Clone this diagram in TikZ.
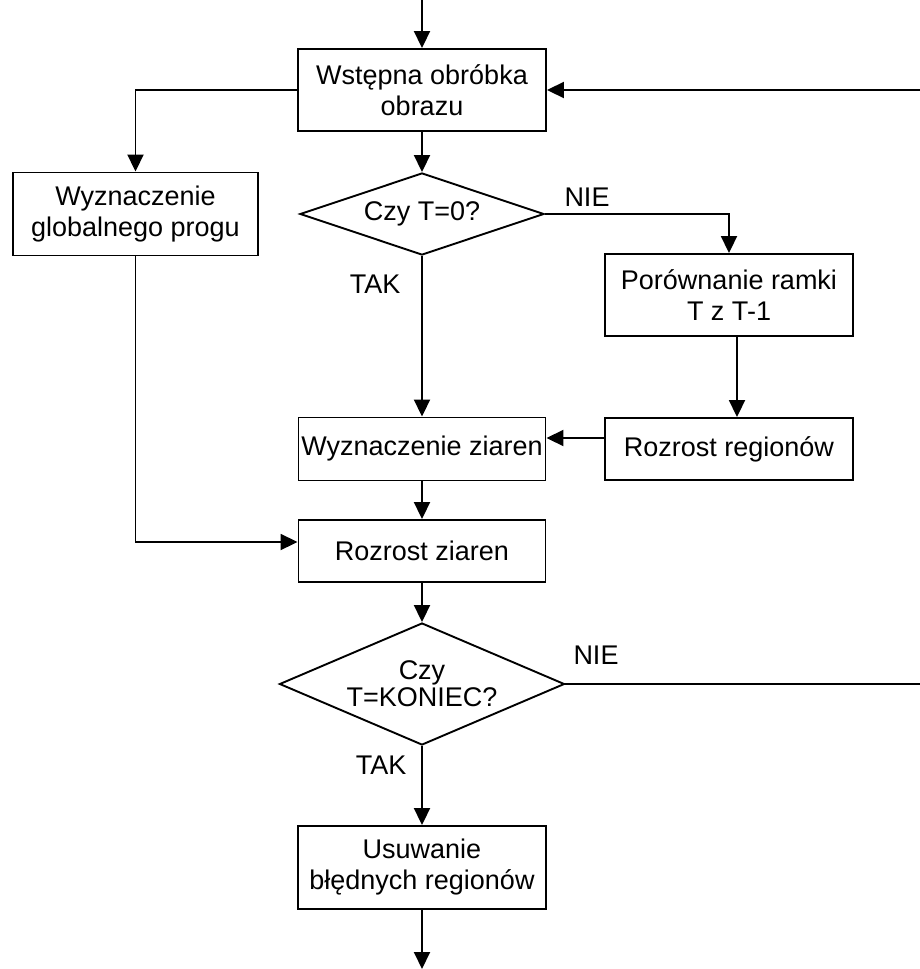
\documentclass[tikz,border=0pt]{standalone}
\usepackage{fontspec}
\setmainfont{Liberation Sans}
\usepackage{tikz}
\usetikzlibrary{shapes.geometric,arrows.meta}
\tikzstyle{process} = [draw, rectangle, line width=1.9pt, inner sep=2pt, text centered, align=center, font=\fontsize{27}{31}\selectfont]
\tikzstyle{decision} = [draw, diamond, line width=1.9pt, inner sep=0pt, text centered, align=center, font=\fontsize{27}{27}\selectfont]
\tikzstyle{answer} = [font=\fontsize{27}{31}\selectfont]
\tikzstyle{arr} = [line width=1.9pt, -{Triangle[length=17pt,width=16pt]}]

\begin{document}
\begin{tikzpicture}[x=1pt,y=-1pt]
    \useasboundingbox (0,0) rectangle (920,969);
    \draw (422,90)    node[process, minimum width=248, minimum height=82] (A) {Wstępna obróbka \\ obrazu};
    \draw (135.5,214) node[process, minimum width=245, minimum height=83] (B) {Wyznaczenie \\ globalnego progu};
    \draw (422,214)   node[decision, minimum width=244, minimum height=82, aspect=2.98] (C) {Czy T=0?};
    \draw (729,295)   node[process, minimum width=248, minimum height=82] (D) {Porównanie ramki \\ T z T-1};
    \draw (729,449)   node[process, minimum width=248, minimum height=62] (E) {Rozrost regionów};
    \draw (422,449)   node[process, minimum width=247, minimum height=63] (F) {Wyznaczenie ziaren};
    \draw (422,551)   node[process, minimum width=247, minimum height=62] (G) {Rozrost ziaren};
    \draw (422,684)   node[decision, minimum width=285, minimum height=122, aspect=2.34] (H) {Czy \\ T=KONIEC?};
    \draw (422,867.5) node[process, minimum width=248, minimum height=83] (I) {Usuwanie \\ błędnych regionów};
    \coordinate (start) at (422,0);
    \coordinate (stop) at (422,969);
    \coordinate (R) at (922,0);
    \draw (587,197) node[answer] (nie1) {NIE};
    \draw (375,284) node[answer] (tak1) {TAK};
    \draw (596,655) node[answer] (nie2) {NIE};
    \draw (381,765) node[answer] (tak2) {TAK};
    \draw[arr] (start) -- (A.north);
    \draw[arr] (A.west) -| (B.north);
    \draw[arr] (A.south) -- (C.north);
    \draw[arr] (C.east) -| (D.north);
    \draw[arr] (C.south) -- (F.north);
    \draw[arr] ([xshift=8pt]D.south) -- ([xshift=8pt]E.north);
    \draw[arr] ([yshift=11pt]E.west) -- ([yshift=11pt]E.west -| F.east);
    \draw[arr] (F.south) -- (G.north);
    \draw[arr] (B.south) |- ([yshift=9pt]G.west);
    \draw[arr] (G.south) -- (H.north);
    \draw[arr] (H.east) -- (H.east -| R) |- (A.east);
    \draw[arr] (H.south) -- (I.north);
    \draw[arr] (I.south) -- (stop);
\end{tikzpicture}
\end{document}
